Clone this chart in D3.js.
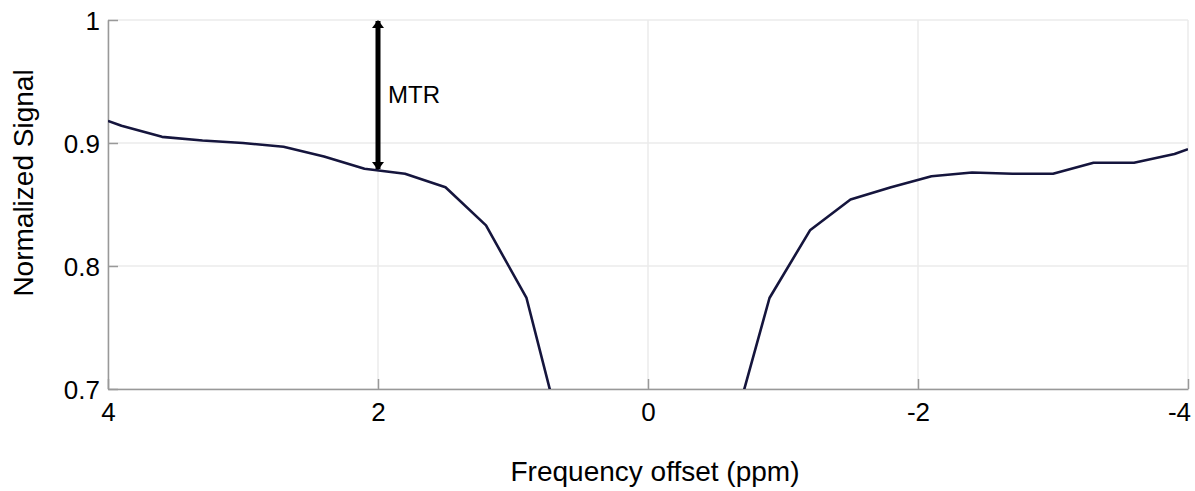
<!DOCTYPE html>
<html>
<head>
<meta charset="utf-8">
<script src="https://cdn.jsdelivr.net/npm/d3@7"></script>
<style>
    body { margin: 0; background: #fff; }
    text { font-family: Arial, "Liberation Sans", sans-serif; fill: #000; }
</style>
</head>
<body>
<svg id="chart" width="1195" height="491"></svg>
<script>
// frequency offsets (ppm) and normalized signal
const offsets = [4, 3.9, 3.6, 3.3, 3.0, 2.7, 2.4, 2.1, 1.8, 1.5, 1.2, 0.9, 0.6,
    -0.6, -0.9, -1.2, -1.5, -1.8, -2.1, -2.4, -2.7, -3.0, -3.3, -3.6, -3.9, -4];
const signal = [0.918, 0.914, 0.905, 0.902, 0.900, 0.897, 0.889, 0.879, 0.875, 0.864, 0.833, 0.774, 0.645,
    0.655, 0.774, 0.829, 0.854, 0.864, 0.873, 0.876, 0.875, 0.875, 0.884, 0.884, 0.891, 0.895];

const xTicks = [4, 2, 0, -2, -4];
const yTicks = [0.7, 0.8, 0.9, 1];

// MTR arrow: from the reference level down to the curve at 2 ppm
const arrowOffset = 2;
const arrowTop = 1;
const arrowBottom = 0.878;

const margin = { left: 108, top: 20, right: 7, bottom: 102 };
const width = 1195 - margin.left - margin.right;
const height = 491 - margin.top - margin.bottom;

const svg = d3.select("#chart");

const x = d3.scaleLinear().domain([4, -4]).range([0, width]);
const y = d3.scaleLinear().domain([0.7, 1]).range([height, 0]);

const defs = svg.append("defs");
defs.append("clipPath")
    .attr("id", "plot-clip")
    .append("rect")
    .attr("width", width)
    .attr("height", height);

defs.append("marker")
    .attr("id", "head")
    .attr("markerUnits", "userSpaceOnUse")
    .attr("viewBox", "0 -6 8 12")
    .attr("refX", 7)
    .attr("refY", 0)
    .attr("markerWidth", 8)
    .attr("markerHeight", 12)
    .attr("orient", "auto-start-reverse")
    .append("path")
    .attr("d", "M0,-6L8,0L0,6Z")
    .attr("fill", "#000");

const g = svg.append("g")
    .attr("transform", "translate(" + margin.left + "," + margin.top + ")");

// grid
g.selectAll(".grid-x")
    .data(xTicks)
    .enter()
    .append("line")
    .attr("x1", function(d) { return x(d); })
    .attr("x2", function(d) { return x(d); })
    .attr("y1", 0)
    .attr("y2", height)
    .attr("stroke", "#ebebeb")
    .attr("stroke-width", 1.5);

g.selectAll(".grid-y")
    .data(yTicks)
    .enter()
    .append("line")
    .attr("x1", 0)
    .attr("x2", width)
    .attr("y1", function(d) { return y(d); })
    .attr("y2", function(d) { return y(d); })
    .attr("stroke", "#ebebeb")
    .attr("stroke-width", 1.5);

// axes with inward ticks
const xAxis = g.append("g")
    .attr("transform", "translate(0," + height + ")")
    .call(d3.axisBottom(x).tickValues(xTicks).tickSize(-10).tickSizeOuter(0).tickPadding(14)
        .tickFormat(function(d) { return d === 0 ? "0" : String(d); }));

const yAxis = g.append("g")
    .call(d3.axisLeft(y).tickValues(yTicks).tickSize(-10).tickSizeOuter(0).tickPadding(8)
        .tickFormat(function(d) { return d === 1 ? "1" : d3.format(".1f")(d); }));

[xAxis, yAxis].forEach(function(axis) {
    axis.select(".domain").attr("stroke", "#999").attr("stroke-width", 1.5);
    axis.selectAll(".tick line").attr("stroke", "#999").attr("stroke-width", 1.5);
    axis.selectAll(".tick text")
        .attr("fill", "#000")
        .attr("font-size", 26)
        .attr("font-family", "Arial, 'Liberation Sans', sans-serif");
});
xAxis.selectAll(".tick text")
    .attr("dy", "0.71em")
    .attr("dx", function(d) { return d === -4 ? -9 : 0; });
yAxis.selectAll(".tick text").attr("dy", "0.35em");

// curve
const line = d3.line()
    .x(function(d, i) { return x(offsets[i]); })
    .y(function(d) { return y(d); });

g.append("path")
    .datum(signal)
    .attr("clip-path", "url(#plot-clip)")
    .attr("fill", "none")
    .attr("stroke", "#15153d")
    .attr("stroke-width", 2.6)
    .attr("stroke-linejoin", "round")
    .attr("d", line);

// MTR arrow
g.append("line")
    .attr("x1", x(arrowOffset))
    .attr("x2", x(arrowOffset))
    .attr("y1", y(arrowTop) + 1)
    .attr("y2", y(arrowBottom) - 1)
    .attr("stroke", "#000")
    .attr("stroke-width", 5)
    .attr("marker-start", "url(#head)")
    .attr("marker-end", "url(#head)");

g.append("text")
    .attr("x", x(arrowOffset) + 10)
    .attr("y", 83)
    .attr("font-size", 24)
    .text("MTR");

// axis titles
svg.append("text")
    .attr("x", margin.left + width / 2 + 7)
    .attr("y", 481)
    .attr("text-anchor", "middle")
    .attr("font-size", 28)
    .text("Frequency offset (ppm)");

svg.append("text")
    .attr("transform", "translate(33,183) rotate(-90)")
    .attr("text-anchor", "middle")
    .attr("font-size", 28)
    .text("Normalized Signal");
</script>
</body>
</html>
